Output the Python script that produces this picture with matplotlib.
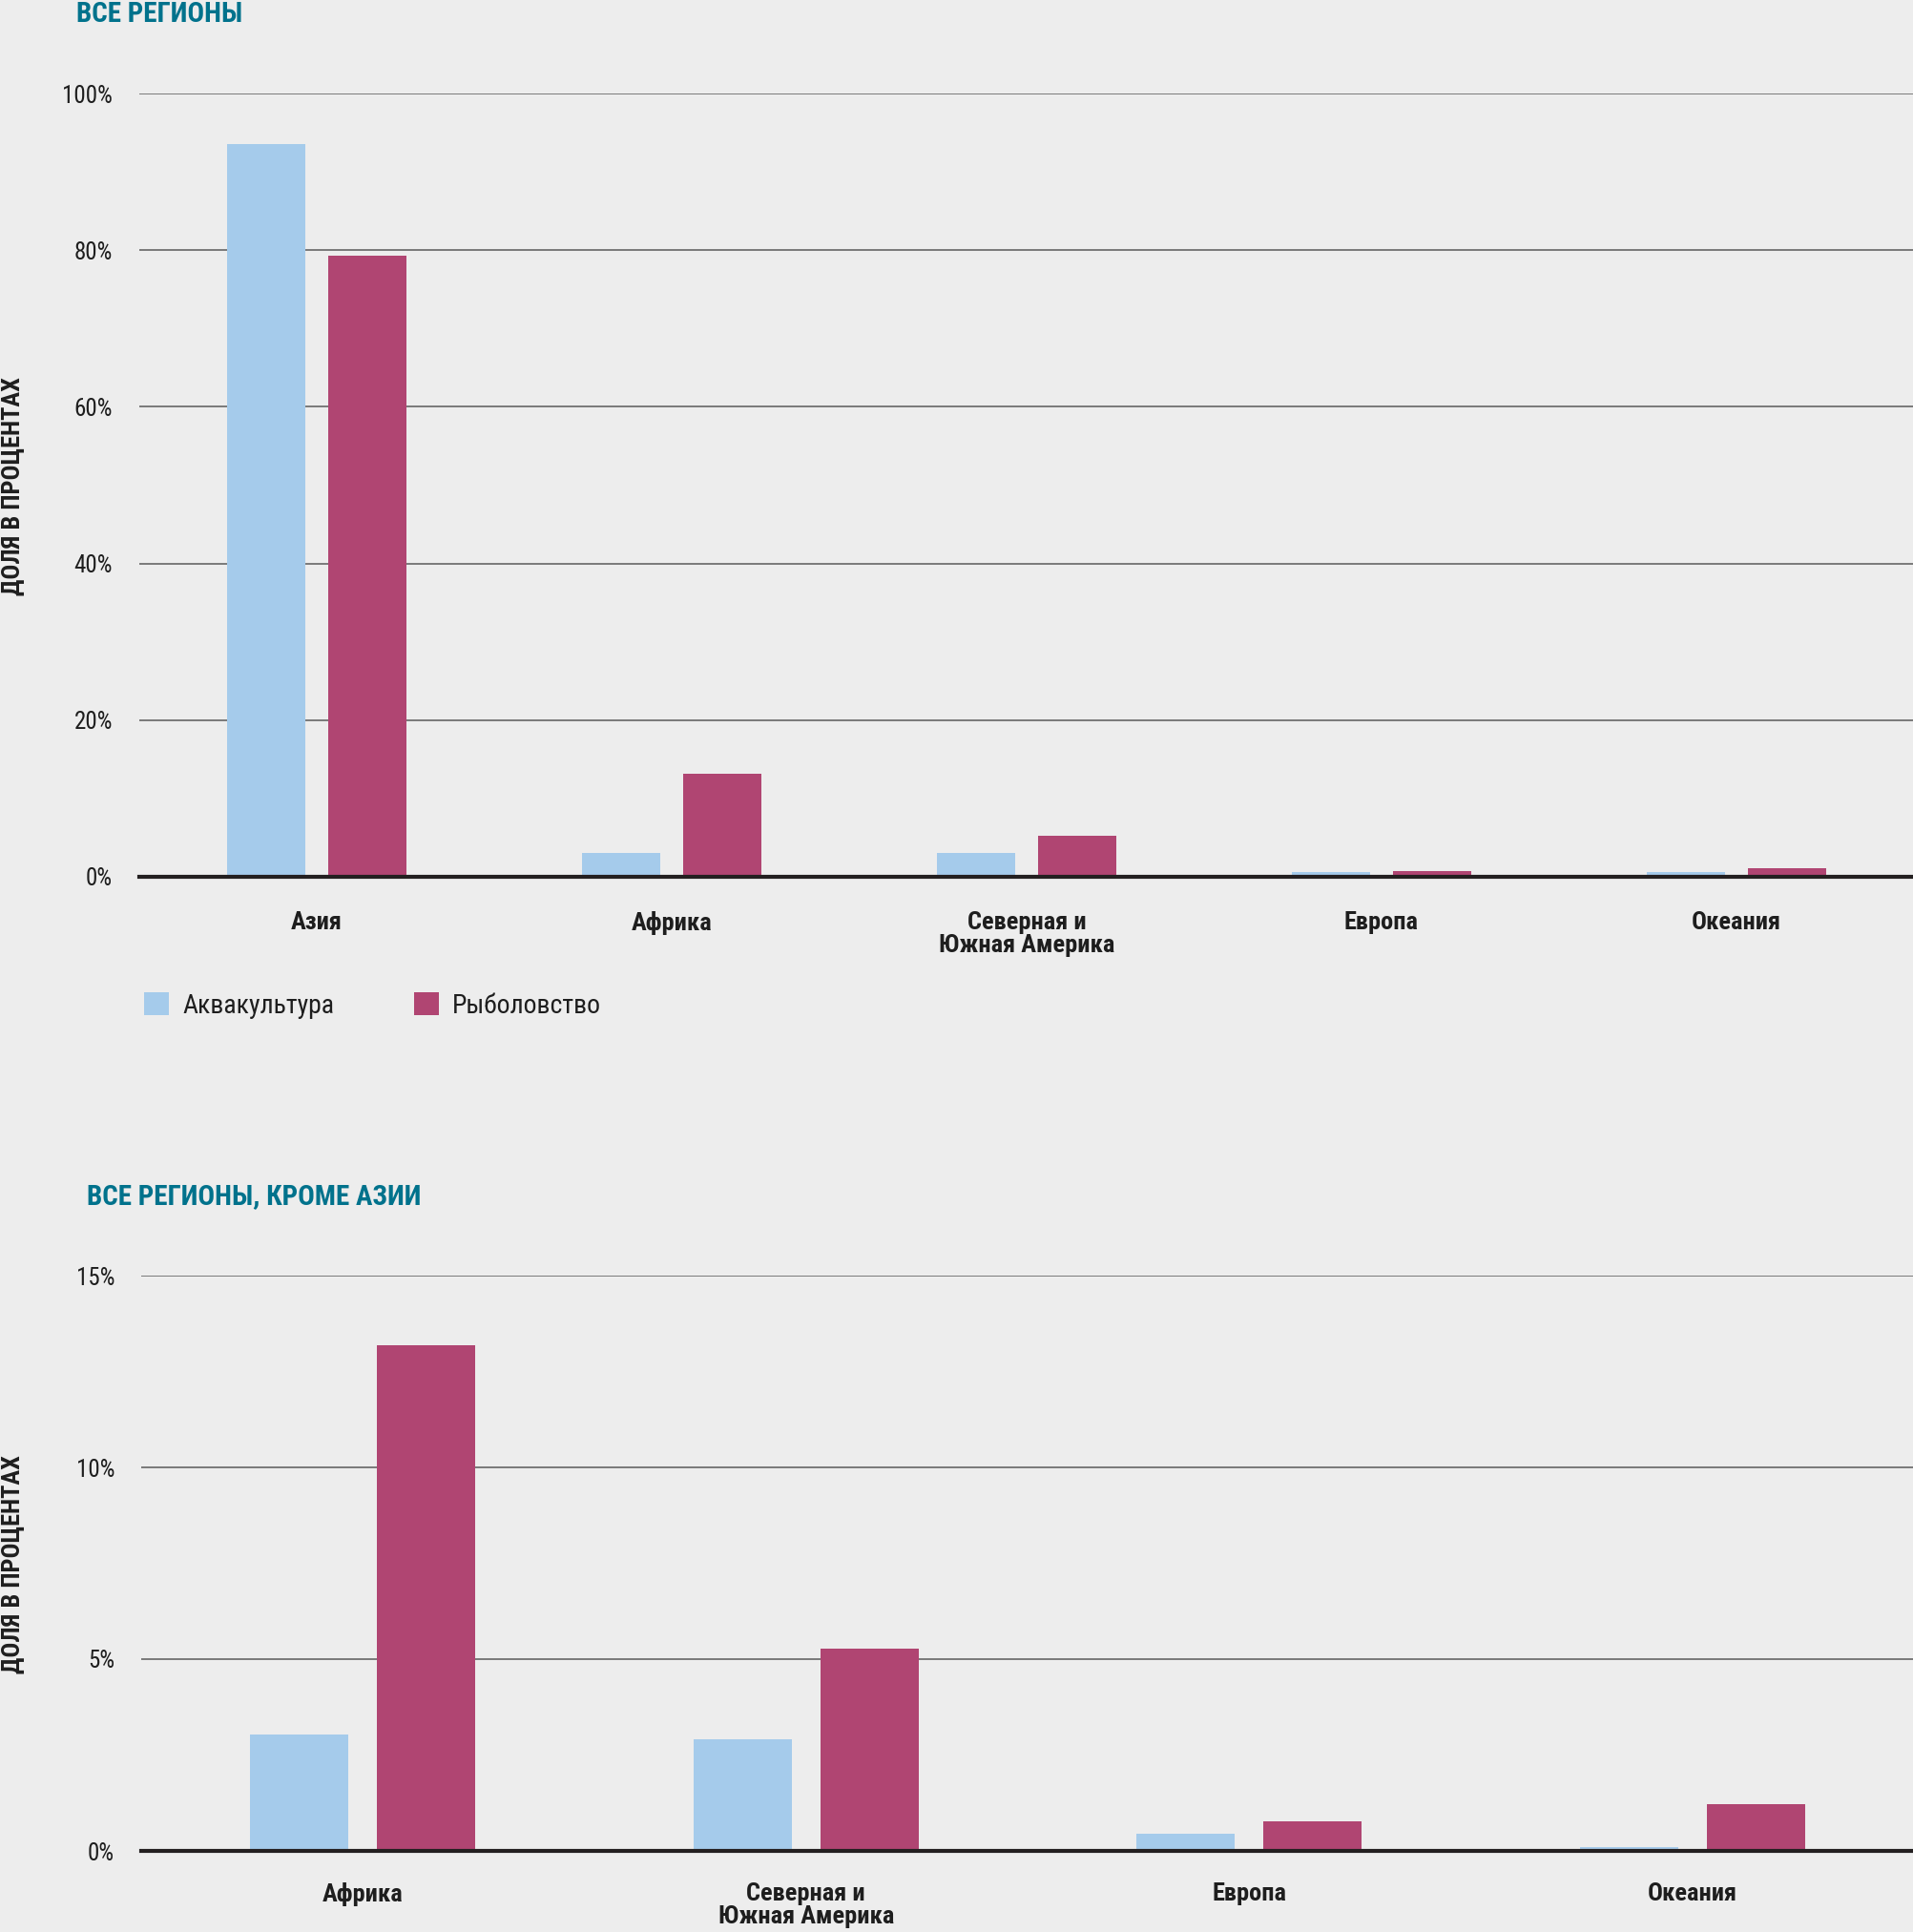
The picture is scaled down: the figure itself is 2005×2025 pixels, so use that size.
import matplotlib
matplotlib.use('Agg')
import matplotlib.pyplot as plt
from matplotlib import font_manager as fm
from matplotlib.patches import Patch
import numpy as np

# ---------------- data ----------------
regions_all = ['Азия', 'Африка', 'Северная и\nЮжная Америка', 'Европа', 'Океания']
aqua_all = [93.5, 3.0, 3.0, 0.6, 0.6]
fish_all = [79.3, 13.1, 5.2, 0.7, 1.1]
yticks_all = [0, 20, 40, 60, 80, 100]

regions_ex = ['Африка', 'Северная и\nЮжная Америка', 'Европа', 'Океания']
aqua_ex = [3.03, 2.92, 0.44, 0.09]
fish_ex = [13.18, 5.28, 0.77, 1.23]
yticks_ex = [0, 5, 10, 15]

series_names = ['Аквакультура', 'Рыболовство']
title_all = 'ВСЕ РЕГИОНЫ'
title_ex = 'ВСЕ РЕГИОНЫ, КРОМЕ АЗИИ'
ylabel_text = 'ДОЛЯ В ПРОЦЕНТАХ'

# ---------------- fonts ----------------
def pick_font():
    entries = fm.fontManager.ttflist
    names = {f.name for f in entries}
    for p in ['Liberation Sans Narrow', 'Roboto Condensed', 'Open Sans Condensed',
              'Noto Sans Condensed', 'DejaVu Sans Condensed']:
        if p in names:
            return p, 'normal'
    for base in ['Roboto', 'Open Sans', 'Noto Sans', 'DejaVu Sans']:
        for f in entries:
            if f.name == base and f.stretch in ('condensed', 'semi-condensed',
                                                'extra-condensed', 'ultra-condensed'):
                return base, f.stretch
    return 'Liberation Sans', 'normal'

fam, stretch = pick_font()
plt.rcParams['font.family'] = [fam, 'DejaVu Sans']
plt.rcParams['font.stretch'] = stretch

BG = '#EDEDED'
C_AQUA = '#A5CBEB'
C_FISH = '#B04572'
C_TITLE = '#00728C'
C_TEXT = '#1E1E1E'
C_GRID = '#5A5A5A'
C_AXIS = '#231F20'

W, H = 2006, 2025
fig = plt.figure(figsize=(W / 100, H / 100), dpi=100, facecolor=BG)


def draw(ax, cats, aqua, fish, yticks, xpad):
    x = np.arange(len(cats))
    bw = 0.222
    off = 0.143
    ax.set_facecolor(BG)
    ax.bar(x - off, aqua, width=bw, color=C_AQUA, zorder=2)
    ax.bar(x + off, fish, width=bw, color=C_FISH, zorder=2)
    ax.set_xlim(-0.5, len(cats) - 0.5)
    ax.set_ylim(yticks[0], yticks[-1])
    ax.set_yticks(yticks)
    ax.set_yticklabels([f'{t}%' for t in yticks], fontsize=18, color=C_TEXT)
    ax.set_xticks(x)
    ax.set_xticklabels(cats, fontsize=19, fontweight='bold', color=C_TEXT,
                       linespacing=1.0)
    ax.tick_params(axis='both', length=0)
    ax.tick_params(axis='y', pad=20)
    ax.tick_params(axis='x', pad=xpad)
    for s in ['top', 'left', 'right']:
        ax.spines[s].set_visible(False)
    ax.spines['bottom'].set_color(C_AXIS)
    ax.spines['bottom'].set_linewidth(3.0)
    ax.spines['bottom'].set_zorder(3)
    ax.yaxis.grid(True, color=C_GRID, linewidth=1.1)
    ax.set_axisbelow(True)


ax1 = fig.add_axes([146 / W, 1 - 919 / H, 1 - 146 / W, (919 - 98) / H])
draw(ax1, regions_all, aqua_all, fish_all, yticks_all, 26)

ax2 = fig.add_axes([148 / W, 1 - 1940 / H, 1 - 148 / W, (1940 - 1337) / H])
draw(ax2, regions_ex, aqua_ex, fish_ex, yticks_ex, 24)

# titles
fig.text(80 / W, 1 - 23 / H, title_all, fontsize=21, fontweight='bold',
         color=C_TITLE, ha='left', va='baseline')
fig.text(91 / W, 1 - 1262 / H, title_ex, fontsize=21, fontweight='bold',
         color=C_TITLE, ha='left', va='baseline')

# y labels
fig.text(14 / W, 1 - 510 / H, ylabel_text, rotation=90, fontsize=19,
         fontweight='bold', color=C_TEXT, ha='center', va='center')
fig.text(14 / W, 1 - 1640 / H, ylabel_text, rotation=90, fontsize=19,
         fontweight='bold', color=C_TEXT, ha='center', va='center')

# legend
handles = [Patch(facecolor=C_AQUA, edgecolor='none'),
           Patch(facecolor=C_FISH, edgecolor='none')]
fig.legend(handles, series_names, loc='center left',
           bbox_to_anchor=(151 / W, 1 - 1054 / H), ncol=2, frameon=False,
           fontsize=20, handlelength=0.95, handleheight=0.95,
           handletextpad=0.5, columnspacing=3.0, borderpad=0,
           borderaxespad=0, labelcolor=C_TEXT)

fig.savefig('out.png', dpi=100, facecolor=BG)
